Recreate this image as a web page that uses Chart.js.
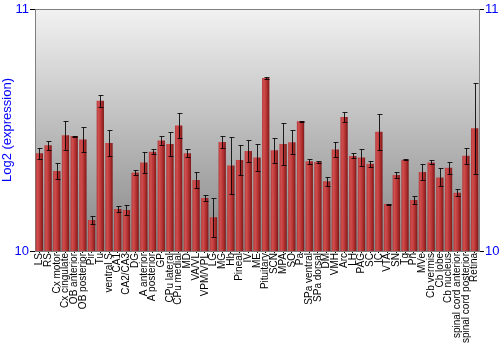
<!DOCTYPE html>
<html><head><meta charset="utf-8">
<script src="https://cdn.jsdelivr.net/npm/chart.js@4.4.1/dist/chart.umd.min.js"></script>
<style>html,body{margin:0;padding:0;background:#fff}canvas{display:block}</style>
</head><body>
<canvas id="c" width="500" height="350"></canvas>
<script>
const categories = ["LS","RS","Cx motor","Cx cingulate","OB anterior","OB posterior","Pir","Tu","ventral S","CA1","CA2/CA3","DG","A anterior","A posterior","GP","CPu lateral","CPu medial","MD","VA/VL","VPM/VPL","LG","MG","Hb","Pineal","IV","ME","Pituitary","SCN","MPA","SO","Pa","SPa ventral","SPa dorsal","DM","VMH","Arc","LH","PAG","SC","IC","VTA","SN","Tg","Pn","MVe","Cb vermis","Cb lobe","Cb nucleus","spinal cord anterior","spinal cord posterior","Retina"];
const values = [10.404,10.437,10.331,10.478,10.475,10.461,10.128,10.621,10.446,10.174,10.169,10.324,10.366,10.410,10.457,10.442,10.519,10.404,10.293,10.219,10.139,10.450,10.353,10.376,10.413,10.386,10.715,10.416,10.442,10.449,10.536,10.371,10.368,10.288,10.419,10.554,10.393,10.386,10.361,10.493,10.194,10.314,10.377,10.211,10.326,10.366,10.304,10.344,10.241,10.394,10.507];
const errors = [0.023,0.019,0.034,0.059,0.002,0.050,0.016,0.025,0.052,0.011,0.020,0.010,0.043,0.010,0.019,0.048,0.050,0.017,0.033,0.014,0.081,0.026,0.117,0.061,0.045,0.056,0.003,0.052,0.085,0.049,0.002,0.010,0.004,0.019,0.030,0.021,0.010,0.034,0.012,0.074,0.002,0.014,0.003,0.017,0.034,0.008,0.037,0.025,0.014,0.033,0.187];
const yMin = 10, yMax = 11;
const yTickValues = [10, 11];

const FONT = "'Liberation Sans', Arial, sans-serif";
const BAR_PCT = 0.84;

const bgPlugin = {
  id: 'bg',
  beforeDraw(chart) {
    const {ctx, chartArea: a} = chart;
    const g = ctx.createLinearGradient(0, a.top, 0, a.bottom);
    g.addColorStop(0, '#f2f2f2');
    g.addColorStop(1, '#858585');
    ctx.save();
    ctx.fillStyle = g;
    ctx.fillRect(a.left, a.top, a.right - a.left, a.bottom - a.top);
    ctx.restore();
  }
};

const errPlugin = {
  id: 'err',
  afterDatasetsDraw(chart) {
    const ctx = chart.ctx;
    const ys = chart.scales.y;
    const meta = chart.getDatasetMeta(0);
    ctx.save();
    ctx.strokeStyle = 'rgba(0,0,0,0.85)';
    ctx.lineWidth = 1;
    meta.data.forEach((bar, i) => {
      const x = Math.round(bar.x) + 0.5;
      const yt = Math.round(ys.getPixelForValue(values[i] + errors[i])) + 0.5;
      const yb = Math.round(ys.getPixelForValue(values[i] - errors[i])) + 0.5;
      ctx.beginPath();
      ctx.moveTo(x, yt); ctx.lineTo(x, yb);
      ctx.moveTo(x - 2, yt); ctx.lineTo(x + 3, yt);
      ctx.moveTo(x - 2, yb); ctx.lineTo(x + 3, yb);
      ctx.stroke();
    });
    ctx.restore();
  }
};

function barFill(context) {
  const chart = context.chart;
  if (!chart.chartArea) return '#b03030';
  const xs = chart.scales.x;
  const cx = xs.getPixelForValue(context.dataIndex);
  const w = (xs.width / categories.length) * BAR_PCT;
  const g = chart.ctx.createLinearGradient(cx - w / 2, 0, cx + w / 2, 0);
  g.addColorStop(0, '#b53838');
  g.addColorStop(0.25, '#cf4e4e');
  g.addColorStop(0.6, '#b83434');
  g.addColorStop(1, '#7e1818');
  return g;
}

new Chart(document.getElementById('c'), {
  type: 'bar',
  data: {
    labels: categories,
    datasets: [{
      data: values,
      backgroundColor: barFill,
      borderWidth: 0,
      barPercentage: BAR_PCT,
      categoryPercentage: 1.0
    }]
  },
  options: {
    responsive: false,
    animation: false,
    layout: { padding: { top: 9, left: 0, right: 0, bottom: 0 } },
    plugins: { legend: { display: false }, tooltip: { enabled: false } },
    scales: {
      x: {
        afterFit(s) { s.height = 99; },
        grid: { display: true, drawOnChartArea: false, tickLength: 2, tickColor: '#000', offset: false },
        border: { display: true, color: '#808080' },
        ticks: {
          autoSkip: false, minRotation: 90, maxRotation: 90, padding: 0,
          color: '#000', font: { family: FONT, size: 10 }
        }
      },
      y: {
        position: 'left',
        min: yMin, max: yMax,
        afterFit(s) { s.width = 35; },
        afterBuildTicks(s) { s.ticks = yTickValues.map(v => ({ value: v })); },
        grid: {
          drawOnChartArea: true, tickLength: 5, tickColor: '#000',
          color: (c) => c.tick && c.tick.value === yMax ? '#808080' : 'rgba(0,0,0,0)'
        },
        border: { display: true, color: '#808080' },
        ticks: { color: '#0000ff', padding: 1, font: { family: FONT, size: 13 } },
        title: { display: true, text: 'Log2 (expression)', color: '#0000ff', padding: { top: 0, bottom: 0 }, font: { family: FONT, size: 13 } }
      },
      y2: {
        position: 'right',
        min: yMin, max: yMax,
        afterFit(s) { s.width = 21; },
        afterBuildTicks(s) { s.ticks = yTickValues.map(v => ({ value: v })); },
        grid: { drawOnChartArea: false, tickLength: 5, tickColor: '#000' },
        border: { display: true, color: '#808080' },
        ticks: { color: '#0000ff', padding: 1, font: { family: FONT, size: 13 } }
      }
    }
  },
  plugins: [bgPlugin, errPlugin]
});
</script>
</body></html>
